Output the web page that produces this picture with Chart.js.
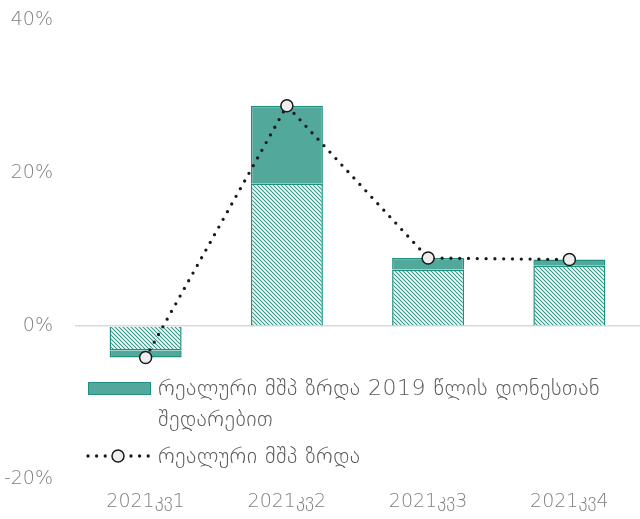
<!DOCTYPE html>
<html>
<head>
<meta charset="utf-8">
<script src="https://cdn.jsdelivr.net/npm/chart.js@4.4.0/dist/chart.umd.min.js"></script>
<style>
  html, body { margin: 0; padding: 0; background: #fff; }
  #wrap { position: relative; width: 640px; height: 519px; }
  .lg { position: absolute; font-family: 'DejaVu Sans', sans-serif; font-weight: 200;
        font-size: 22px; letter-spacing: 0.5px; color: #595959; line-height: 31px; white-space: nowrap; }
  .lg-box { position: absolute; left: 88px; top: 382px; width: 61px; height: 11px;
            background: #52a89a; border: 1.5px solid #1f8f7f; }
  .lg-line { position: absolute; left: 84px; top: 446px; }
</style>
</head>
<body>
<div id="wrap">
  <canvas id="gdpChart"></canvas>
  <div class="lg-box"></div>
  <div class="lg" style="left:158px; top:372px;">რეალური მშპ ზრდა 2019 წლის დონესთან<br>შედარებით</div>
  <svg class="lg-line" width="70" height="20">
    <line x1="4" y1="10" x2="66" y2="10" stroke="#1a1a1a" stroke-width="3.3" stroke-linecap="round" stroke-dasharray="0 8.6"/>
    <circle cx="34" cy="10" r="6" fill="#eeeeee" stroke="#1a1a1a" stroke-width="1.5"/>
  </svg>
  <div class="lg" style="left:158px; top:440px;">რეალური მშპ ზრდა</div>
</div>
<script>
// Quarters and values (%)
const quarters = ["2021კვ1", "2021კვ2", "2021კვ3", "2021კვ4"];
const baseGrowth = [-3.2, 18.6, 7.4, 7.9];      // hatched part
const vs2019 = [-0.9, 10.2, 1.5, 0.8];          // solid part on top
const realGrowth = [-4.1, 28.8, 8.9, 8.7];      // dotted line
const yTicks = [-20, 0, 20, 40];

const TEAL = "#1f8f7f";
const TEAL_FILL = "#52a89a";
const TICK_FONT = { family: "'DejaVu Sans', sans-serif", size: 19, weight: 200 };

// diagonal hatch fill for the lower bar segment
function makeHatch() {
    const c = document.createElement("canvas");
    c.width = 4;
    c.height = 4;
    const g = c.getContext("2d");
    g.fillStyle = "#ffffff";
    g.fillRect(0, 0, 4, 4);
    g.strokeStyle = "#2a9a88";
    g.lineWidth = 1.1;
    g.beginPath();
    g.moveTo(-1, -1); g.lineTo(5, 5);
    g.moveTo(-1, 3); g.lineTo(1, 5);
    g.moveTo(3, -1); g.lineTo(5, 1);
    g.stroke();
    return g.createPattern(c, "repeat");
}

const ctx = document.getElementById("gdpChart").getContext("2d");

new Chart(ctx, {
    data: {
        labels: quarters,
        datasets: [
            {
                type: "line",
                label: "რეალური მშპ ზრდა",
                data: realGrowth,
                stack: "line",
                order: 0,
                borderColor: "#1a1a1a",
                borderWidth: 3.3,
                borderDash: [0, 8.8],
                borderCapStyle: "round",
                pointRadius: 6,
                pointBackgroundColor: "#eeeeee",
                pointBorderColor: "#1a1a1a",
                pointBorderWidth: 1.5,
                tension: 0,
                fill: false
            },
            {
                type: "bar",
                label: "",
                data: baseGrowth,
                stack: "bars",
                order: 1,
                backgroundColor: makeHatch(),
                borderColor: TEAL,
                borderWidth: 1.5,
                categoryPercentage: 1,
                barPercentage: 0.51
            },
            {
                type: "bar",
                label: "რეალური მშპ ზრდა 2019 წლის დონესთან შედარებით",
                data: vs2019,
                stack: "bars",
                order: 1,
                backgroundColor: TEAL_FILL,
                borderColor: TEAL,
                borderWidth: 1.5,
                categoryPercentage: 1,
                barPercentage: 0.51
            }
        ]
    },
    options: {
        responsive: true,
        maintainAspectRatio: false,
        animation: false,
        layout: { autoPadding: false, padding: { top: 20, right: 0, bottom: -5, left: 0 } },
        scales: {
            x: {
                stacked: true,
                grid: { display: false, drawTicks: false },
                border: { display: false },
                ticks: { color: "#7f7f7f", font: TICK_FONT, padding: 11, maxRotation: 0 }
            },
            y: {
                stacked: true,
                min: -20,
                max: 40,
                afterBuildTicks: scale => { scale.ticks = yTicks.map(v => ({ value: v })); },
                afterFit: scale => { scale.width = 75; },
                grid: {
                    tickLength: 22,
                    tickColor: "rgba(0,0,0,0)",
                    color: c => (c.tick && c.tick.value === 0 ? "#d9d9d9" : "rgba(0,0,0,0)"),
                    lineWidth: 1.5
                },
                border: { display: false },
                ticks: {
                    color: "#7f7f7f",
                    font: TICK_FONT,
                    padding: 0,
                    callback: v => v + "%"
                }
            }
        },
        plugins: {
            legend: { display: false },
            tooltip: { enabled: false }
        }
    }
});
</script>
</body>
</html>
